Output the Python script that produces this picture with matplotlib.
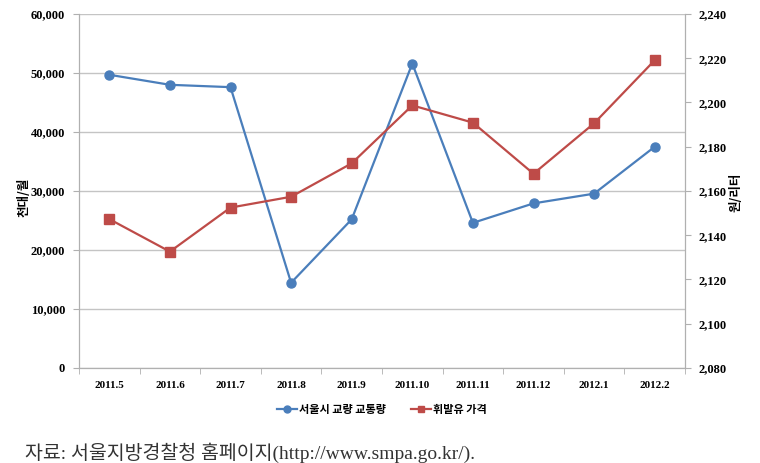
import matplotlib.pyplot as plt
from matplotlib.lines import Line2D
import numpy as np

plt.rcParams['font.family'] = ['Noto Sans CJK KR', 'DejaVu Sans']

months = ['2011.5', '2011.6', '2011.7', '2011.8', '2011.9',
          '2011.10', '2011.11', '2011.12', '2012.1', '2012.2']
# 서울시 교량 교통량 (천대/월)
traffic = [49700, 48000, 47600, 14450, 25200, 51600, 24600, 27900, 29550, 37500]
# 휘발유 가격 (원/리터)
gas_price = [2147.3, 2132.6, 2152.5, 2157.4, 2172.5, 2198.7, 2190.9, 2167.8, 2190.6, 2219.1]

left_ticks = [0, 10000, 20000, 30000, 40000, 50000, 60000]
right_ticks = [2080, 2100, 2120, 2140, 2160, 2180, 2200, 2220, 2240]

blue = '#4a7ebb'
red = '#be4b48'
spine_col = '#b0b0b0'
tick_font = dict(family=['Liberation Serif', 'DejaVu Serif'], weight='bold')

fig = plt.figure(figsize=(7.6, 4.63), dpi=100)
ax = fig.add_axes([79 / 760, 1 - 368 / 463, (685 - 79) / 760, (368 - 14) / 463])
ax2 = ax.twinx()

x = np.arange(len(months))

ax.plot(x, traffic, color=blue, lw=1.6, marker='o', ms=6.5, zorder=3)
ax2.plot(x, gas_price, color=red, lw=1.6, marker='s', ms=6.5, zorder=3)

ax.set_xlim(-0.5, len(months) - 0.5)
ax.set_ylim(0, 60000)
ax2.set_ylim(2080, 2240)

ax.set_yticks(left_ticks)
ax.set_yticklabels([f'{v:,}' for v in left_ticks], fontsize=9, **tick_font)
ax2.set_yticks(right_ticks)
ax2.set_yticklabels([f'{v:,}' for v in right_ticks], fontsize=9, **tick_font)

ax.set_xticks(x)
ax.set_xticklabels(months, fontsize=8, **tick_font)
ax.set_xticks(np.arange(-0.5, len(months)), minor=True)
ax.tick_params(axis='x', which='major', length=0, pad=9)
ax.tick_params(axis='x', which='minor', length=4, color=spine_col)
ax.tick_params(axis='y', length=4, color=spine_col, pad=6)
ax2.tick_params(axis='y', length=4, color=spine_col, pad=6)

ax.grid(axis='y', color='#c4c4c4', lw=1)
ax.set_axisbelow(True)

for a in (ax, ax2):
    a.spines['top'].set_visible(False)
    for s in ('left', 'right', 'bottom'):
        a.spines[s].set_color(spine_col)

fig.text(24 / 760, 1 - 197 / 463, '천대/월', rotation=90, ha='center', va='center',
         fontsize=9, weight='bold')
fig.text(736 / 760, 1 - 192 / 463, '원/리터', rotation=90, ha='center', va='center',
         fontsize=9, weight='bold')

handles = [
    Line2D([], [], color=blue, lw=1.6, marker='o', ms=5),
    Line2D([], [], color=red, lw=1.6, marker='s', ms=5),
]
fig.legend(handles, ['서울시 교량 교통량', '휘발유 가격'], ncol=2, frameon=False,
           loc='center', bbox_to_anchor=(382 / 760, 1 - 409 / 463),
           prop=dict(size=8, weight='bold'), handlelength=1.8,
           handletextpad=0.2, columnspacing=2.2)

fig.text(25 / 760, 1 - 453 / 463, '자료: 서울지방경찰청 홈페이지(http://www.smpa.go.kr/).',
         ha='left', va='center', fontsize=14, color='#333333',
         family=['Liberation Serif', 'Noto Sans CJK KR'])

fig.savefig('out.png', dpi=100)
